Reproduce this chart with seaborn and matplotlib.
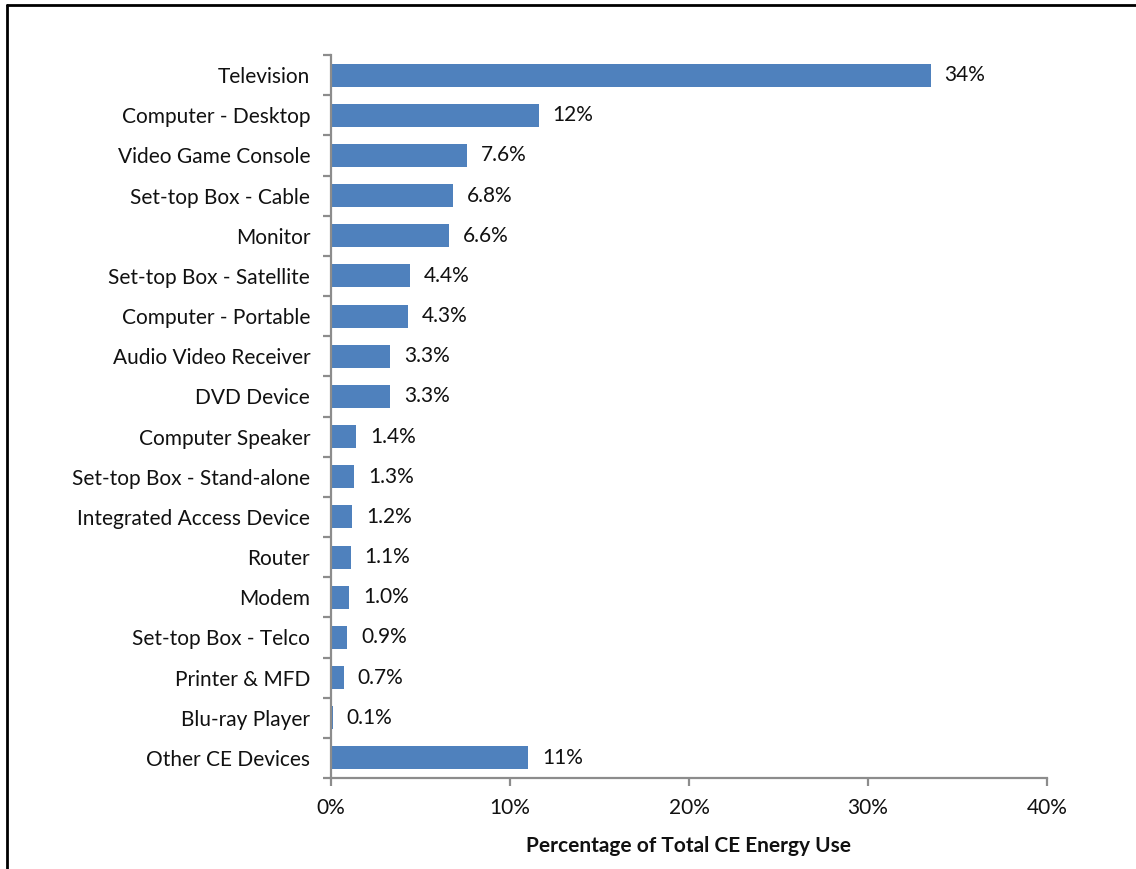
import matplotlib
matplotlib.use("Agg")
import matplotlib.pyplot as plt
from matplotlib.lines import Line2D
from matplotlib.ticker import FixedLocator, PercentFormatter
import seaborn as sns
import pandas as pd

# Share of total consumer-electronics energy use by device category (%)
categories = [
    "Television", "Computer - Desktop", "Video Game Console", "Set-top Box - Cable",
    "Monitor", "Set-top Box - Satellite", "Computer - Portable", "Audio Video Receiver",
    "DVD Device", "Computer Speaker", "Set-top Box - Stand-alone", "Integrated Access Device",
    "Router", "Modem", "Set-top Box - Telco", "Printer & MFD", "Blu-ray Player",
    "Other CE Devices",
]
shares = [33.5, 11.6, 7.6, 6.8, 6.6, 4.4, 4.3, 3.3, 3.3, 1.4, 1.3, 1.2, 1.1, 1.0, 0.9,
          0.7, 0.1, 11.0]
x_ticks = [0, 10, 20, 30, 40]
x_title = "Percentage of Total CE Energy Use"

BAR_BLUE = "#4F81BD"
AXIS_GREY = "#8C8C8C"
TEXT = "#111111"

sns.set_theme(style="white")
plt.rcParams["font.family"] = ["Lato", "DejaVu Sans"]
FS = 15

df = pd.DataFrame({"device": categories, "share": shares})

fig = plt.figure(figsize=(11.36, 8.69), dpi=100)
W, H = 1136, 869
ax = fig.add_axes([331 / W, 1 - 778 / H, (1047 - 331) / W, (778 - 55) / H])

sns.barplot(data=df, x="share", y="device", orient="h", color=BAR_BLUE,
            saturation=1, width=0.57, ax=ax, linewidth=0)

ax.set_xlim(0, 40)
ax.set_ylim(len(categories) - 0.5, -0.5)

# value labels to the right of each bar
labels = [f"{v:.0f}%" if v >= 10 else f"{v:.1f}%" for v in shares]
ax.bar_label(ax.containers[0], labels=labels, padding=10, fontsize=FS, color=TEXT)

# axes styling
for side in ("top", "right"):
    ax.spines[side].set_visible(False)
for side in ("left", "bottom"):
    ax.spines[side].set_color(AXIS_GREY)
    ax.spines[side].set_linewidth(1.6)

ax.xaxis.set_major_locator(FixedLocator(x_ticks))
ax.xaxis.set_major_formatter(PercentFormatter(decimals=0))
ax.tick_params(axis="x", direction="out", length=5.5, width=1.6, color=AXIS_GREY,
               labelsize=FS, labelcolor=TEXT, pad=9, bottom=True)

# category labels at row centres, tick marks at row boundaries
ax.tick_params(axis="y", which="major", length=0, pad=15, labelsize=FS, labelcolor=TEXT)
ax.yaxis.set_minor_locator(FixedLocator([i - 0.5 for i in range(len(categories) + 1)]))
ax.tick_params(axis="y", which="minor", direction="out", length=5.5, width=1.6,
               color=AXIS_GREY, left=True)

ax.set_ylabel("")
ax.set_xlabel(x_title, fontsize=FS, fontweight="bold", color=TEXT, labelpad=13)
ax.grid(False)

# document frame around the chart
fig.add_artist(Line2D([7 / W, 7 / W], [0, 1 - 5 / H], transform=fig.transFigure,
                      color="black", linewidth=2.0))
fig.add_artist(Line2D([7 / W, 1], [1 - 5 / H, 1 - 5 / H], transform=fig.transFigure,
                      color="black", linewidth=2.0))

fig.savefig("out.png", dpi=100)
